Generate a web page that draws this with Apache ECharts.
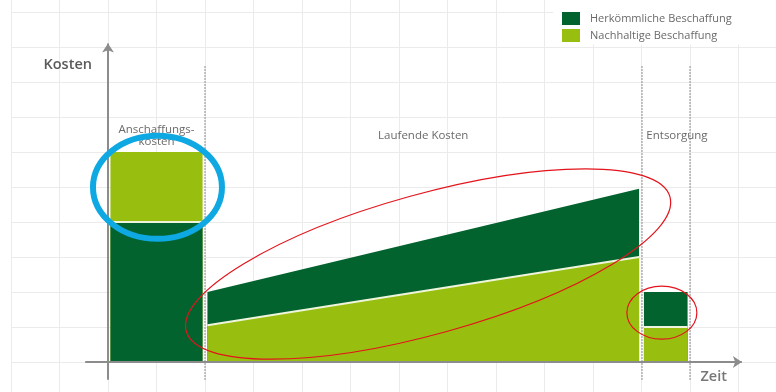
<!DOCTYPE html>
<html>
<head>
<meta charset="utf-8">
<script src="https://cdn.jsdelivr.net/npm/echarts@6/dist/echarts.min.js"></script>
<style>
  html, body { margin: 0; padding: 0; background: #ffffff; overflow: hidden; width: 776px; height: 392px; }
  /* the plot area runs a little past the window so the grid reaches every edge */
  #chart { position: absolute; left: 0; top: -23px; width: 787px; height: 420px; }
</style>
</head>
<body>
<div id="chart"></div>
<script>
// Life-cycle phases along the time axis
const phaseNames = ['Anschaffungs-\nkosten', 'Laufende Kosten', 'Entsorgung'];
const phaseStart = [0, 2, 11];
const phaseEnd = [2, 11, 12];
const seriesNames = ['Herkömmliche Beschaffung', 'Nachhaltige Beschaffung'];
const axisNames = ['Zeit', 'Kosten'];

// Costs per phase: [value at phase start, value at phase end]
const acquisitionConventional = [4, 4];
const acquisitionSustainable = [6, 6];
const runningConventional = [2, 4.95];
const runningSustainable = [1.05, 3];
const disposalConventional = [2, 2];
const disposalSustainable = [1, 1];

const DARK = '#03632f';
const LIGHT = '#98bf10';
const EDGE = '#eef5dc';
const FONT = '"Open Sans", "Noto Sans", sans-serif';
const INSET = 0.05;

// One filled band of a phase, drawn down to the time axis
function band(name, phase, values, color, z, edgeLine) {
  return {
    type: 'line',
    name: name,
    data: [
      [phaseStart[phase] + INSET, values[0]],
      [phaseEnd[phase] - INSET, values[1]]
    ],
    symbol: 'none',
    silent: true,
    z: z,
    itemStyle: { color: color },
    lineStyle: edgeLine ? { color: EDGE, width: 2 } : { width: 0, opacity: 0 },
    areaStyle: { color: color, opacity: 1 },
    emphasis: { disabled: true },
    animation: false
  };
}

const chart = echarts.init(document.getElementById('chart'), null, { renderer: 'canvas' });

chart.setOption({
  animation: false,
  backgroundColor: '#ffffff',
  grid: { left: 11, right: 0, top: 0, bottom: 0, containLabel: false },
  xAxis: {
    type: 'value', min: -2, max: 14, interval: 1,
    axisLine: { show: false }, axisTick: { show: false }, axisLabel: { show: false },
    splitLine: { show: true, lineStyle: { color: '#ebebeb', width: 1 } }
  },
  yAxis: {
    type: 'value', min: -1, max: 11, interval: 1,
    axisLine: { show: false }, axisTick: { show: false }, axisLabel: { show: false },
    splitLine: { show: true, lineStyle: { color: '#ebebeb', width: 1 } }
  },
  legend: {
    orient: 'vertical', left: 562, top: 35, padding: 0,
    icon: 'rect', itemWidth: 18, itemHeight: 13, itemGap: 4,
    selectedMode: false,
    textStyle: { fontFamily: FONT, fontSize: 11, color: '#6a6a6a', padding: [0, 0, 0, 5] },
    data: [
      { name: seriesNames[0], itemStyle: { color: DARK } },
      { name: seriesNames[1], itemStyle: { color: LIGHT } }
    ]
  },
  series: [
    band(seriesNames[1], 0, acquisitionSustainable, LIGHT, 2, false),
    band(seriesNames[0], 0, acquisitionConventional, DARK, 3, true),
    band(seriesNames[0], 1, runningConventional, DARK, 2, false),
    band(seriesNames[1], 1, runningSustainable, LIGHT, 3, true),
    band(seriesNames[0], 2, disposalConventional, DARK, 2, false),
    band(seriesNames[1], 2, disposalSustainable, LIGHT, 3, true),
    {
      // phase separators and the two axes with arrow heads
      type: 'line', data: [], silent: true, z: 5,
      markLine: {
        silent: true, animation: false,
        label: { show: false },
        emphasis: { disabled: true },
        data: [
          ...phaseEnd.map(x => [
            { coord: [x, -0.51], symbol: 'none', lineStyle: { color: '#9a9a9a', width: 1.5, type: [1.5, 1.5] } },
            { coord: [x, 8.49], symbol: 'none' }
          ]),
          [
            { coord: [0, -0.51], symbol: 'none', lineStyle: { color: '#8c8c8c', width: 2, type: 'solid' } },
            { coord: [0, 9.1], symbol: 'arrow', symbolSize: [9, 9] }
          ],
          [
            { coord: [-0.47, 0], symbol: 'none', lineStyle: { color: '#8c8c8c', width: 2, type: 'solid' } },
            { coord: [13.07, 0], symbol: 'arrow', symbolSize: [9, 9] }
          ]
        ]
      }
    }
  ]
});

// Text labels and highlight rings placed through the chart's coordinate system
function px(x, y) { return chart.convertToPixel({ gridIndex: 0 }, [x, y]); }

const labelY = 6.46;
const graphics = [];

// white backdrop behind the legend
const lgA = px(9.18, 11), lgB = px(14, 9.07);
graphics.push({ type: 'rect', z: 1, silent: true,
  shape: { x: lgA[0], y: lgA[1], width: lgB[0] - lgA[0], height: lgB[1] - lgA[1] },
  style: { fill: '#ffffff' } });

const yName = px(-0.83, 8.49);
graphics.push({ type: 'text', z: 100, x: yName[0], y: yName[1],
  style: { text: axisNames[1], fontFamily: FONT, fontSize: 14.5, fontWeight: 600, fill: '#5a5a5a', align: 'center', verticalAlign: 'middle' } });
const xName = px(12.49, -0.43);
graphics.push({ type: 'text', z: 100, x: xName[0], y: xName[1],
  style: { text: axisNames[0], fontFamily: FONT, fontSize: 14.5, fontWeight: 600, fill: '#777777', align: 'center', verticalAlign: 'middle' } });

[0, 1].forEach(i => {
  const p = px((phaseStart[i] + phaseEnd[i]) / 2, labelY);
  graphics.push({ type: 'text', z: 100, x: p[0], y: p[1],
    style: { text: phaseNames[i], fontFamily: FONT, fontSize: 11.5, lineHeight: 12, fill: '#6a6a6a', align: 'center', verticalAlign: 'middle' } });
});
const pE = px(phaseStart[2] + 0.1, labelY);
graphics.push({ type: 'text', z: 100, x: pE[0], y: pE[1],
  style: { text: phaseNames[2], fontFamily: FONT, fontSize: 11.5, fill: '#6a6a6a', align: 'left', verticalAlign: 'middle' } });

// highlight rings
const cBlue = px(1.02, 4.99);
graphics.push({ type: 'ellipse', z: 110, silent: true, x: cBlue[0], y: cBlue[1],
  shape: { cx: 0, cy: 0, rx: 64.5, ry: 51.5 },
  style: { fill: 'none', stroke: '#0ea8e2', lineWidth: 6 } });
const cRun = px(6.6, 2.8);
graphics.push({ type: 'ellipse', z: 110, silent: true, x: cRun[0], y: cRun[1], rotation: 15.5 * Math.PI / 180,
  shape: { cx: 0, cy: 0, rx: 251, ry: 70 },
  style: { fill: 'none', stroke: '#e3141c', lineWidth: 1.2 } });
const cDis = px(11.42, 1.41);
graphics.push({ type: 'ellipse', z: 110, silent: true, x: cDis[0], y: cDis[1],
  shape: { cx: 0, cy: 0, rx: 35, ry: 26.5 },
  style: { fill: 'none', stroke: '#e3141c', lineWidth: 1.2 } });

chart.setOption({ graphic: graphics });
</script>
</body>
</html>
